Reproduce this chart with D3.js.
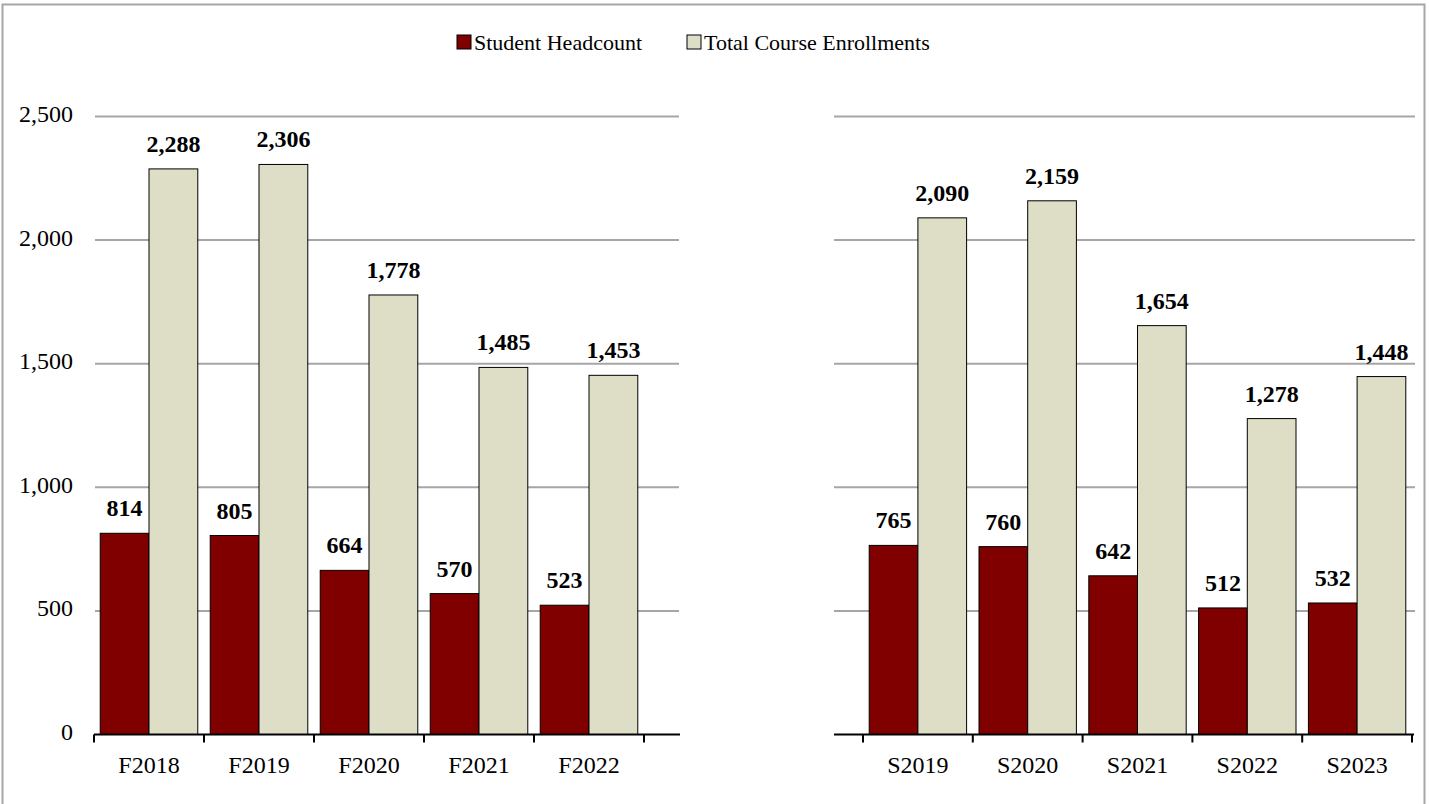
<!DOCTYPE html>
<html><head><meta charset="utf-8">
<script src="https://cdn.jsdelivr.net/npm/d3@7"></script>
<style>body{margin:0;background:#fff}svg{display:block}</style>
</head><body>
<script>
const fallTerms = ["F2018","F2019","F2020","F2021","F2022"];
const fallHeadcount = [814,805,664,570,523];
const fallEnrollments = [2288,2306,1778,1485,1453];
const springTerms = ["S2019","S2020","S2021","S2022","S2023"];
const springHeadcount = [765,760,642,512,532];
const springEnrollments = [2090,2159,1654,1278,1448];
const seriesNames = ["Student Headcount","Total Course Enrollments"];
const yTicks = [0,500,1000,1500,2000,2500];

const W=1429,H=804;
const colors=["#800000","#DEDEC7"];
const font="'Liberation Serif','Times New Roman',serif";
const svg=d3.select("body").append("svg").attr("width",W).attr("height",H);

// outer border
svg.append("path").attr("d",`M2.5,${H+2} V4.5 H1424.5 V${H+2}`).attr("fill","none").attr("stroke","#A6A6A6").attr("stroke-width",2);

const y=d3.scaleLinear().domain([0,2500]).range([734.5,116.5]);

// y tick labels
svg.append("g").selectAll("text").data(yTicks).join("text")
 .attr("x",73).attr("y",d=>y(d)).attr("text-anchor","end").attr("dominant-baseline","middle")
 .attr("font-family",font).attr("font-size",24).attr("fill","#000")
 .text(d=>d3.format(",")(d));

function panel(terms,hc,en,bandStart,bandEnd,axisStart,axisEnd,gridStart,gridEnd){
  const g=svg.append("g");
  g.selectAll("line.grid").data(yTicks.filter(d=>d>0)).join("line")
   .attr("x1",gridStart).attr("x2",gridEnd).attr("y1",d=>y(d)).attr("y2",d=>y(d))
   .attr("stroke","#A6A6A6").attr("stroke-width",2);
  const x=d3.scaleBand().domain(terms).range([bandStart,bandEnd]).paddingInner(0.113).paddingOuter(0.0565);
  const xs=d3.scaleBand().domain([0,1]).range([0,x.bandwidth()]);
  const data=terms.map((t,i)=>({t,vals:[hc[i],en[i]]}));
  const grp=g.selectAll("g.cat").data(data).join("g").attr("transform",d=>`translate(${x(d.t)},0)`);
  grp.selectAll("rect").data(d=>d.vals).join("rect")
   .attr("x",(v,i)=>xs(i)).attr("width",xs.bandwidth())
   .attr("y",v=>y(v)).attr("height",v=>y(0)-y(v))
   .attr("fill",(v,i)=>colors[i]).attr("stroke","#000").attr("stroke-width",1);
  grp.selectAll("text").data(d=>d.vals).join("text")
   .attr("x",(v,i)=>xs(i)+xs.bandwidth()/2).attr("y",v=>y(v)-17)
   .attr("text-anchor","middle").attr("font-family",font).attr("font-weight","bold")
   .attr("font-size",24).attr("fill","#000").text(v=>d3.format(",")(v));
  const step=x.step();
  g.append("line").attr("x1",axisStart).attr("x2",axisEnd).attr("y1",y(0)).attr("y2",y(0)).attr("stroke","#000").attr("stroke-width",2);
  const ticks=d3.range(terms.length+1).map(i=>bandStart+i*step);
  g.selectAll("line.tk").data(ticks).join("line")
   .attr("x1",d=>d).attr("x2",d=>d).attr("y1",y(0)).attr("y2",y(0)+8).attr("stroke","#000").attr("stroke-width",2);
  g.selectAll("text.cl").data(terms).join("text")
   .attr("x",d=>x(d)+x.bandwidth()/2).attr("y",773)
   .attr("text-anchor","middle").attr("font-family",font).attr("font-size",24).attr("fill","#000").text(d=>d);
}
panel(fallTerms,fallHeadcount,fallEnrollments,94,644,94,680,95,679);
panel(springTerms,springHeadcount,springEnrollments,863,1412,834,1414,834,1415);

const lg=svg.append("g");
const lx=[457,687];
seriesNames.forEach((n,i)=>{
  lg.append("rect").attr("x",lx[i]).attr("y",35).attr("width",14).attr("height",14)
    .attr("fill",colors[i]).attr("stroke","#000").attr("stroke-width",1);
  lg.append("text").attr("x",lx[i]+17).attr("y",50).attr("font-family",font).attr("font-size",22).attr("fill","#000").text(n);
});
</script>
</body></html>
